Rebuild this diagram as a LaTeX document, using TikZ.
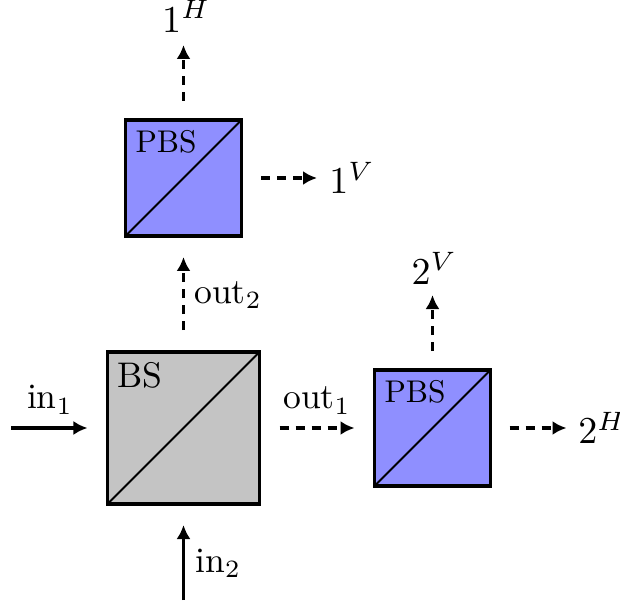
\documentclass[tikz,border=0pt]{standalone}
\usepackage{xcolor}
\usetikzlibrary{positioning,arrows.meta}
\definecolor{bsgrey}{HTML}{C4C4C4}
\definecolor{pbsblue}{HTML}{8F8FFF}
\tikzset{
  cube/.style    = {draw, line width=3.3pt, inner sep=0pt, outer sep=0pt},
  bscube/.style  = {cube, fill=bsgrey, minimum size=152pt},
  pbscube/.style = {cube, fill=pbsblue, minimum size=116pt},
  diag/.style    = {line width=2pt},
  arr/.style     = {-{Latex[length=14pt,width=14pt]}, line width=3.3pt},
  arrd/.style    = {arr, dash pattern=on 9pt off 7pt},
  lab/.style     = {scale=3.56, inner sep=0pt},
  labp/.style    = {scale=3.14, inner sep=0pt},
  port/.style    = {scale=3.8, inner sep=0pt},
}
\begin{document}
\begin{tikzpicture}[x=1pt,y=1pt]
  \useasboundingbox (-183.5,-177) rectangle (436.5,428);
  \node[bscube] (bs) at (0,0) {};
  \node[pbscube, above=116pt of bs] (pbsone) {};
  \node[pbscube, right=115pt of bs] (pbstwo) {};

  \draw[diag] (bs.south west) -- (bs.north east);
  \draw[diag] (pbsone.south west) -- (pbsone.north east);
  \draw[diag] (pbstwo.south west) -- (pbstwo.north east);

  \node[lab, below right=9.4pt and 9.4pt of bs.north west] (bslab) {BS};
  \node[labp, below right=9.4pt and 9.4pt of pbsone.north west] (pbsonelab) {PBS};
  \node[labp, below right=9.4pt and 9.4pt of pbstwo.north west] (pbstwolab) {PBS};

  \coordinate[left=96pt of bs.west] (inone);
  \coordinate[below=96pt of bs.south] (intwo);
  \node[port, above=87pt of pbsone.north, xshift=.7pt] (oneh) {$1^H$};
  \node[port, right=87pt of pbsone.east] (onev) {$1^V$};
  \node[port, above=85pt of pbstwo.north, xshift=.5pt] (twov) {$2^V$};
  \node[port, right=87pt of pbstwo.east] (twoh) {$2^H$};

  \draw[arr, shorten >=20pt] (inone) -- node[lab, pos=.40, above=8pt] (inonelab) {in$_1$} (bs.west);
  \draw[arr, shorten >=21pt] (intwo) -- node[lab, pos=.38, right=6pt] (intwolab) {in$_2$} (bs.south);
  \draw[arrd, shorten <=20pt, shorten >=20pt] (bs.east) -- node[lab, above=8pt] (outonelab) {out$_1$} (pbstwo.west);
  \draw[arrd, shorten <=22pt, shorten >=21pt] (bs.north) -- node[lab, pos=.49, right=5pt] (outtwolab) {out$_2$} (pbsone.south);
  \draw[arrd, shorten <=19pt, shorten >=12pt] (pbsone.north) -- (pbsone.north |- oneh.south);
  \draw[arrd, shorten <=19.5pt, shorten >=11.5pt] (pbsone.east) -- (onev.west);
  \draw[arrd, shorten <=19pt, shorten >=10pt] (pbstwo.north) -- (pbstwo.north |- twov.south);
  \draw[arrd, shorten <=19pt, shorten >=11pt] (pbstwo.east) -- (twoh.west);
\end{tikzpicture}
\end{document}
